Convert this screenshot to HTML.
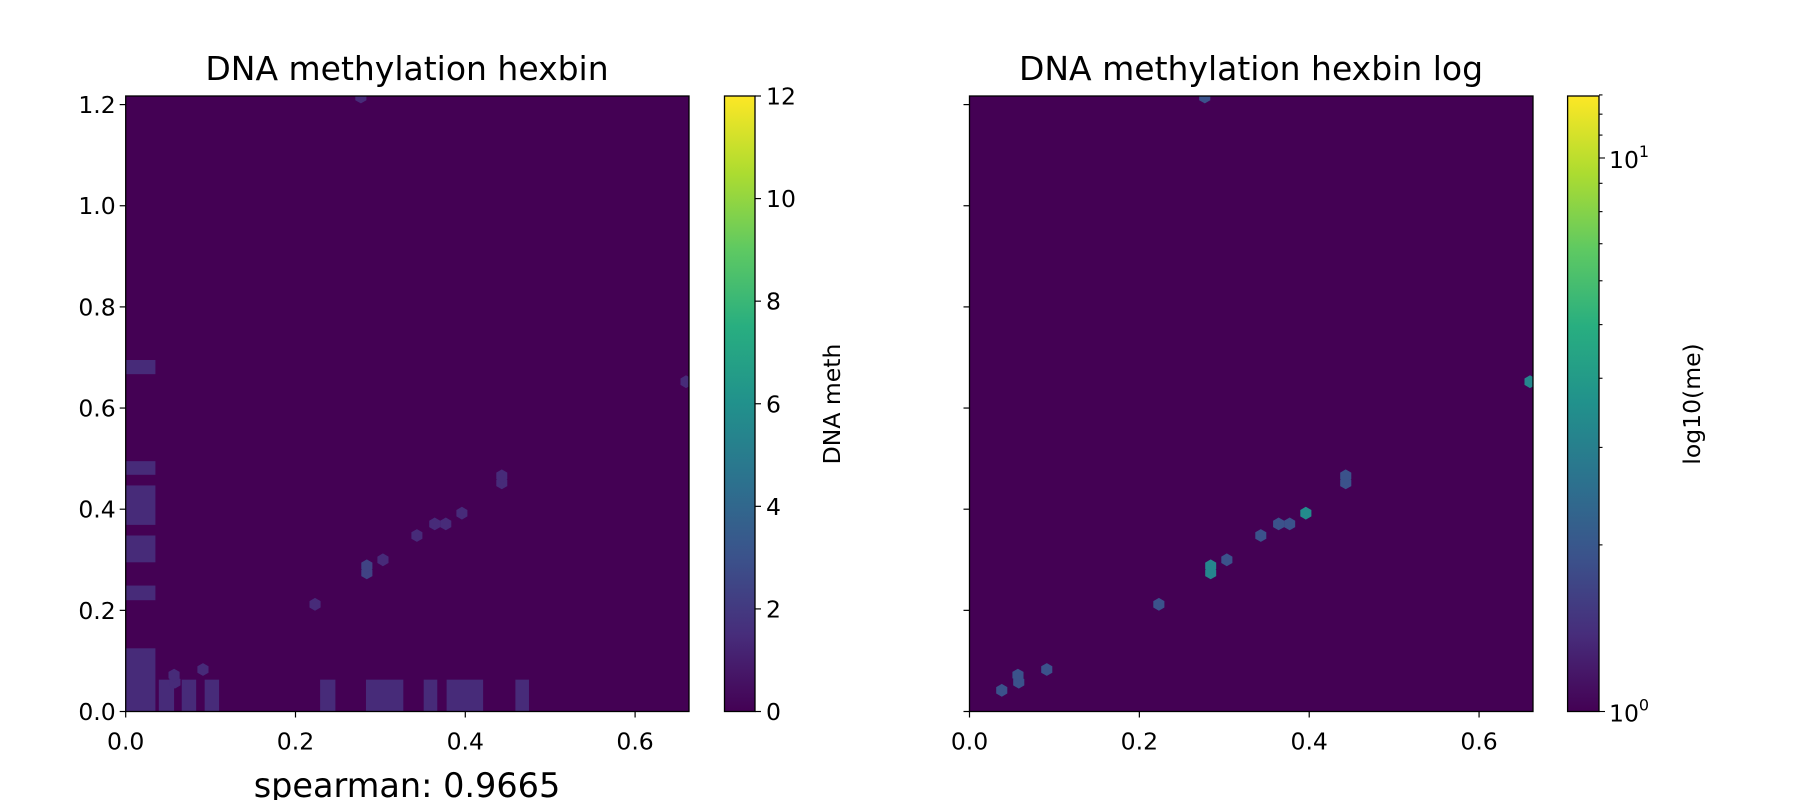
<!DOCTYPE html>
<html><head><meta charset="utf-8"><style>
body{margin:0;background:#fff;}
svg{display:block;font-family:"DejaVu Sans","Liberation Sans",sans-serif;}
</style></head><body>
<svg id="fig" width="1800" height="800" viewBox="0 0 1800 800" xmlns="http://www.w3.org/2000/svg">
<defs>
<linearGradient id="vir" x1="0" y1="1" x2="0" y2="0">
<stop offset="0" stop-color="#440154"/><stop offset="0.125" stop-color="#472d7b"/><stop offset="0.25" stop-color="#3b528b"/><stop offset="0.375" stop-color="#2c728e"/><stop offset="0.5" stop-color="#21918c"/><stop offset="0.625" stop-color="#28ae80"/><stop offset="0.75" stop-color="#5ec962"/><stop offset="0.875" stop-color="#addc30"/><stop offset="1" stop-color="#fde725"/>
</linearGradient>
</defs>
<g id="left"></g>
<g id="right"></g>
</svg>
<script>
// data
const rectX0=[0,0,0,0,0,0,0.039,0.066,0.093,0.229,0.283,0.351,0.378,0.459];
const rectX1=[0.035,0.035,0.035,0.035,0.035,0.035,0.057,0.083,0.110,0.247,0.327,0.367,0.421,0.475];
const rectY0=[0.667,0.468,0.369,0.295,0.220,0,0,0,0,0,0,0,0,0];
const rectY1=[0.695,0.495,0.447,0.348,0.249,0.125,0.063,0.063,0.063,0.063,0.063,0.063,0.063,0.063];
const rectVal=[1,1,1,1,1,1,1,1,1,1,1,1,1,1];
const hexX=[0.058,0.057,0.091,0.223,0.284,0.284,0.303,0.343,0.364,0.377,0.396,0.443,0.443,0.66,0.277,0.038];
const hexY=[0.058,0.072,0.083,0.212,0.274,0.288,0.300,0.348,0.371,0.371,0.392,0.452,0.466,0.652,1.215,0.042];
const hexLeft=[1,1,1,1,2,2,1,1,1,1,1,1,1,1,1,0];
const hexRight=[1.9,1.9,1.9,1.9,3.2,3.2,1.9,1.9,1.9,1.9,3.4,1.9,1.9,3.2,1.9,1.9];
const yTicks=[0,0.2,0.4,0.6,0.8,1.0,1.2];
const xTicks=[0,0.2,0.4,0.6];
const cbTicksLeft=[0,2,4,6,8,10,12];

const NS="http://www.w3.org/2000/svg";
const stops=[[68,1,84],[71,45,123],[59,82,139],[44,114,142],[33,145,140],[40,174,128],[94,201,98],[173,220,48],[253,231,37]];
function vir(t){t=Math.max(0,Math.min(1,t));const p=t*8,i=Math.min(7,Math.floor(p)),f=p-i;const a=stops[i],b=stops[i+1];return 'rgb('+a.map((v,k)=>Math.round(v+(b[k]-v)*f)).join(',')+')';}
function el(parent,tag,attrs,text){const e=document.createElementNS(NS,tag);for(const k in attrs)e.setAttribute(k,attrs[k]);if(text!==undefined)e.textContent=text;parent.appendChild(e);return e;}
const Y0=711.5,YT=96,XMAX=0.6635,YMAX=1.217;
const TF=23.5;
function panel(g,L,R,isLog){
  const sx=v=>L+(v/XMAX)*(R-L), sy=v=>Y0-(v/YMAX)*(Y0-YT);
  el(g,'rect',{x:L,y:YT,width:R-L,height:Y0-YT,fill:'#440154'});
  const cp='cp'+Math.round(L);const c=el(g,'clipPath',{id:cp});el(c,'rect',{x:L,y:YT,width:R-L,height:Y0-YT});
  const pg=el(g,'g',{'clip-path':'url(#'+cp+')'});
  if(!isLog){
    for(let i=0;i<rectX0.length;i++){
      const r=el(pg,'rect',{x:sx(rectX0[i]),y:sy(rectY1[i]),width:sx(rectX1[i])-sx(rectX0[i]),height:sy(rectY0[i])-sy(rectY1[i]),fill:vir(rectVal[i]/12*0.95+0.04)});
      
      
    }
  }
  for(let i=0;i<hexX.length;i++){
    const v=isLog?hexRight[i]:hexLeft[i];
    if(!isLog&&v<=0)continue;
    const col=isLog?vir(Math.log10(v)/1.112):vir(v/12*0.95+0.04);
    const cx=sx(hexX[i]),cy=sy(hexY[i]),r=6.4;let pts=[];
    for(let k=0;k<6;k++){const a=Math.PI/6+k*Math.PI/3;pts.push((cx+r*Math.cos(a)).toFixed(1)+','+(cy+r*Math.sin(a)).toFixed(1));}
    const h=el(pg,'polygon',{points:pts.join(' '),fill:col});
    
    
  }
  el(g,'rect',{x:L,y:YT,width:R-L,height:Y0-YT,fill:'none',stroke:'#000','stroke-width':1.3});
  yTicks.forEach(t=>{const y=sy(t);el(g,'line',{x1:L-6,x2:L,y1:y,y2:y,stroke:'#000','stroke-width':1.2});
    if(!isLog){const tx=el(g,'text',{x:L-10,y:y+8.5,'text-anchor':'end','font-size':TF},t.toFixed(1));}});
  xTicks.forEach(t=>{const x=sx(t);el(g,'line',{x1:x,x2:x,y1:Y0,y2:Y0+6,stroke:'#000','stroke-width':1.2});
    const tx=el(g,'text',{x:x,y:Y0+38,'text-anchor':'middle','font-size':TF},t.toFixed(1));});
}
const gl=document.getElementById('left'),gr=document.getElementById('right');
panel(gl,125.7,689,false);
panel(gr,969.5,1533,true);
function title(g,x,t){const e=el(g,'text',{x:x,y:80,'text-anchor':'middle','font-size':33},t);}
title(gl,407,'DNA methylation hexbin');title(gr,1251,'DNA methylation hexbin log');
const sp=el(gl,'text',{x:407,y:797,'text-anchor':'middle','font-size':33.5},'spearman: 0.9665');

function cbar(g,L,R,name){el(g,'rect',{x:L,y:YT,width:R-L,height:Y0-YT,fill:'url(#vir)',stroke:'#000','stroke-width':1.3});}
cbar(gl,724.5,755,'colorbar');cbar(gr,1567.6,1599,'colorbar-log');
cbTicksLeft.forEach(t=>{const y=Y0-(t/12)*(Y0-YT);el(gl,'line',{x1:755,x2:761,y1:y,y2:y,stroke:'#000','stroke-width':1.2});
  el(gl,'text',{x:766,y:y+8.5,'font-size':TF},String(t));});
const cl=el(gl,'text',{x:0,y:0,'font-size':TF,'text-anchor':'middle',transform:'translate(840,404) rotate(-90)'},'DNA meth');

for(let m=1;m<=13;m++){const y=Y0-(Math.log10(m)/1.112)*(Y0-YT);const major=(m===1||m===10);
  el(gr,'line',{x1:1599,x2:1599+(major?6:3.5),y1:y,y2:y,stroke:'#000','stroke-width':1.1});}
[[1,'0'],[10,'1']].forEach(([m,e])=>{const y=Y0-(Math.log10(m)/1.112)*(Y0-YT);
  const t=el(gr,'text',{x:1609,y:y+10,'font-size':TF},'10');el(t,'tspan',{dy:-11,'font-size':16},e);});
const cl2=el(gr,'text',{x:0,y:0,'font-size':TF,'text-anchor':'middle',transform:'translate(1700,404) rotate(-90)'},'log10(me)');

</script>
</body></html>
